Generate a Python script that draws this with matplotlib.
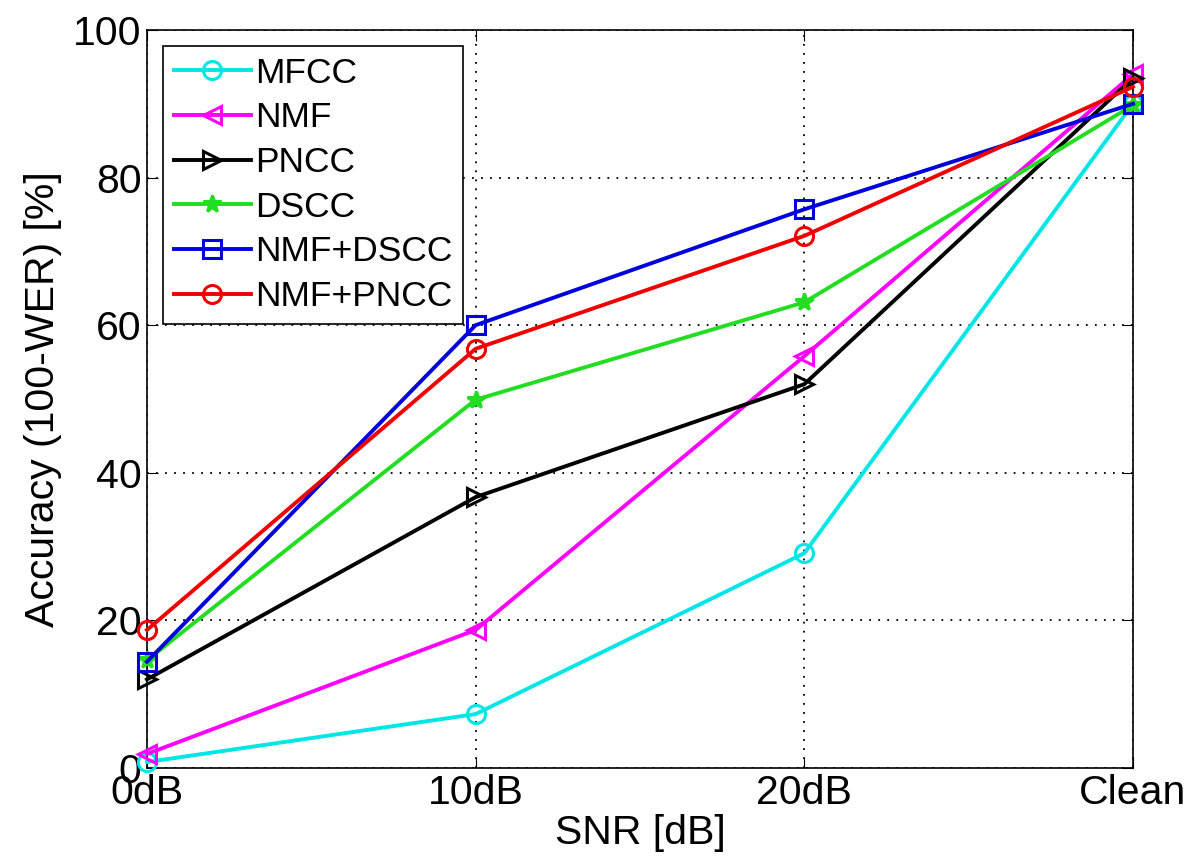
import matplotlib
matplotlib.use("Agg")
import matplotlib.pyplot as plt

plt.rcParams['font.family'] = ['Liberation Sans', 'DejaVu Sans']

categories = ["0dB", "10dB", "20dB", "Clean"]
mfcc = [0.8, 7.3, 29.1, 90.0]
nmf = [1.9, 18.7, 55.8, 94.0]
pncc = [12.0, 36.7, 52.0, 93.5]
dscc = [14.6, 49.9, 63.1, 89.8]
nmf_dscc = [14.4, 60.0, 75.7, 90.0]
nmf_pncc = [18.7, 56.8, 72.1, 92.3]

series = [
    ("MFCC", mfcc, "#00e5e5", "o", "none"),
    ("NMF", nmf, "#ff00ff", "<", "none"),
    ("PNCC", pncc, "black", ">", "none"),
    ("DSCC", dscc, "#22dd22", "*", "#22dd22"),
    ("NMF+DSCC", nmf_dscc, "#0000dd", "s", "none"),
    ("NMF+PNCC", nmf_pncc, "#ee0000", "o", "none"),
]

fig = plt.figure(figsize=(11.91, 8.66), dpi=100)
ax = fig.add_axes([0.1234, 0.1132, 0.8279, 0.8522])
x = list(range(len(categories)))
for name, vals, col, mk, mfc in series:
    ax.plot(x, vals, color=col, marker=mk, markersize=13, markerfacecolor=mfc,
            markeredgecolor=col, markeredgewidth=2.2, linewidth=2.8, label=name,
            clip_on=False, zorder=3)

ax.set_xlim(0, 3)
ax.set_ylim(0, 100)
ax.set_xticks(x)
ax.set_xticklabels(categories)
ax.set_yticks([0, 20, 40, 60, 80, 100])
ax.tick_params(direction='in', labelsize=29.5, length=8, top=True, right=True, pad=4)
ax.grid(True, linestyle=(0, (1, 4)), color='black', linewidth=1.3)
ax.set_xlabel("SNR [dB]", fontsize=29.5, labelpad=2)
ax.set_ylabel("Accuracy (100-WER) [%]", fontsize=29.5, labelpad=8)
for s in ax.spines.values():
    s.set_linewidth(1.2)

leg = ax.legend(loc='upper left', fontsize=25.5, handlelength=2.2, handletextpad=0.1,
                borderaxespad=0.45, labelspacing=0.33, fancybox=False, framealpha=1,
                edgecolor='black', borderpad=0.3)
leg.get_frame().set_linewidth(1.2)

fig.savefig("out.png", dpi=100)
